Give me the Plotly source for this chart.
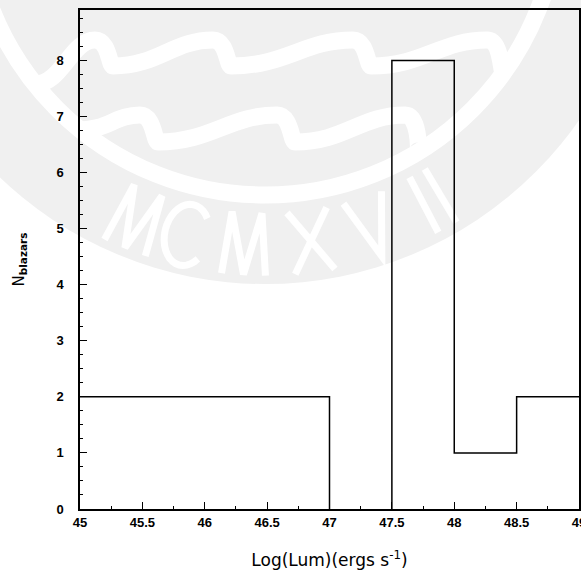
import math
import plotly.graph_objects as go

# Histogram of source luminosities (bin width 0.5 in log L)
bin_edges = [45.0, 45.5, 46.0, 46.5, 47.0, 47.5, 48.0, 48.5, 49.0]
counts = [2, 2, 2, 2, 0, 8, 1, 2]

x_tick_vals = [45, 45.5, 46, 46.5, 47, 47.5, 48, 48.5, 49]
x_tick_text = ["45", "45.5", "46", "46.5", "47", "47.5", "48", "48.5", "49"]
y_tick_vals = [0, 1, 2, 3, 4, 5, 6, 7, 8]
y_tick_text = ["0", "1", "2", "3", "4", "5", "6", "7", "8"]

W, H = 581, 573
ML, MR, MT, MB = 80, 2, 10, 64
PW, PH = W - ML - MR, H - MT - MB
BOTTOM = H - MB

# ---------- background seal (page pixel geometry -> paper fractions) ----------
def to_paper(px, py):
    return ((px - ML) / PW, (BOTTOM - py) / PH)

def fmt(p):
    x, y = to_paper(*p)
    return f"{x:.5f},{y:.5f}"

SEAL_C = (265.0, -99.0)
SEAL_R = 383.0
RING_R = 294.0
GRAY = "#f0f0f0"

def circle_shape(cx, cy, r, **kw):
    x0, y1 = to_paper(cx - r, cy - r)
    x1, y0 = to_paper(cx + r, cy + r)
    return dict(type="circle", xref="paper", yref="paper",
                x0=x0, x1=x1, y0=y0, y1=y1, layer="below", **kw)

def wave_row(start, crests, yc, yt, end):
    cmds = [f"M{fmt(start)}"]
    prev = start
    for i, xc in enumerate(crests):
        xt, ytp = prev
        dx = xc - xt
        cmds.append(f"C{fmt((xt + 0.45 * dx, ytp))} {fmt((xc - 0.4 * dx, yc))} {fmt((xc, yc))}")
        nxt = end if i == len(crests) - 1 else (xc + 18, yt)
        cmds.append(f"C{fmt((xc + 14, yc))} {fmt((xc + 14, nxt[1]))} {fmt(nxt)}")
        prev = nxt
    return " ".join(cmds)

LETTER_H = 62
BASE_R = 374

def letter_strokes(ch):
    h = LETTER_H
    if ch == "M":
        return [[(-22, 0), (-15, h), (0, 0), (15, h), (22, 0)]]
    if ch == "C":
        pts = []
        for k in range(0, 29):
            a = math.radians(42 + k * (276 / 28))
            pts.append((22 * math.cos(a), h / 2 + (h / 2) * math.sin(a)))
        return [pts]
    if ch == "X":
        return [[(-20, 0), (20, h)], [(-20, h), (20, 0)]]
    if ch == "V":
        return [[(-20, h), (0, 0), (20, h)]]
    if ch == "I":
        return [[(0, 0), (0, h)]]
    return []

def letter_path(ch, theta_deg):
    t = math.radians(theta_deg)
    bx = SEAL_C[0] + BASE_R * math.sin(t)
    by = SEAL_C[1] + BASE_R * math.cos(t)
    u = (math.cos(t), -math.sin(t))
    v = (-math.sin(t), -math.cos(t))
    parts = []
    for stroke in letter_strokes(ch):
        pix = [(bx + a * u[0] + b * v[0], by + a * u[1] + b * v[1]) for a, b in stroke]
        parts.append("M" + " L".join(fmt(p) for p in pix))
    return " ".join(parts)

seal_letters = ["M", "C", "M", "X", "V", "I", "I"]
seal_angles = [-22.0, -13.2, -3.3, 7.7, 18.2, 27.6, 30.8]

shapes = [
    circle_shape(*SEAL_C, SEAL_R, fillcolor=GRAY, line=dict(width=0)),
    circle_shape(*SEAL_C, RING_R, fillcolor="rgba(0,0,0,0)", line=dict(color="white", width=17)),
    dict(type="path", xref="paper", yref="paper", layer="below",
         path=wave_row((35, 84), [95, 213, 353, 487], 40, 66, (503, 72)),
         line=dict(color="white", width=17)),
    dict(type="path", xref="paper", yref="paper", layer="below",
         path=wave_row((80, 130), [140, 277, 405], 115, 142, (418, 151)),
         line=dict(color="white", width=17)),
]
for ch, ang in zip(seal_letters, seal_angles):
    shapes.append(dict(type="path", xref="paper", yref="paper", layer="below",
                       path=letter_path(ch, ang), line=dict(color="white", width=7)))

# ---------- histogram outline (outer edges and empty bins fall on the frame) ----------
def step_outline(edges, values):
    xs, ys = [], []
    prev = None
    for i, val in enumerate(values):
        left, right = edges[i], edges[i + 1]
        if val == 0:
            if prev:
                xs.append(left)
                ys.append(0)
            xs.append(None)
            ys.append(None)
            prev = 0
            continue
        if prev is None:
            xs += [left, right]
            ys += [val, val]
        else:
            xs += [left, left, right]
            ys += [prev, val, val]
        prev = val
    return xs, ys

step_x, step_y = step_outline(bin_edges, counts)

fig = go.Figure()
fig.add_trace(go.Scatter(
    x=step_x, y=step_y, mode="lines", connectgaps=False,
    line=dict(color="black", width=1.5), hoverinfo="skip", showlegend=False,
))

tick_font = dict(family="Liberation Sans", size=13, color="black", weight="bold")
axis_common = dict(
    showline=True, linecolor="black", linewidth=1.5, mirror=True,
    showgrid=False, zeroline=False, automargin=False,
    ticks="inside", ticklen=7, tickwidth=1.3, tickcolor="black",
    tickfont=tick_font, ticklabeloverflow="allow",
)

fig.update_layout(
    width=W, height=H,
    margin=dict(l=ML, r=MR, t=MT, b=MB),
    paper_bgcolor="white", plot_bgcolor="rgba(0,0,0,0)",
    showlegend=False,
    shapes=shapes,
    xaxis=dict(
        range=[45, 49], tickmode="array", tickvals=x_tick_vals, ticktext=x_tick_text,
        minor=dict(tickmode="linear", tick0=45, dtick=0.25, ticks="inside",
                   ticklen=3.5, tickwidth=1.2, tickcolor="black", showgrid=False),
        ticklabelstandoff=1,
        title=dict(text="Log(Lum)(ergs s<sup>-1</sup>)",
                   font=dict(family="DejaVu Sans", size=17, color="black"), standoff=25),
        **axis_common,
    ),
    yaxis=dict(
        range=[0, 8.9], tickmode="array", tickvals=y_tick_vals, ticktext=y_tick_text,
        minor=dict(tickmode="linear", tick0=0, dtick=0.25, ticks="inside",
                   ticklen=3.5, tickwidth=1.2, tickcolor="black", showgrid=False),
        ticklabelstandoff=12,
        title=dict(text="N<sub><b>blazars</b></sub>",
                   font=dict(family="DejaVu Sans", size=15, color="black"), standoff=28),
        **axis_common,
    ),
)

fig.write_html("out.html")
